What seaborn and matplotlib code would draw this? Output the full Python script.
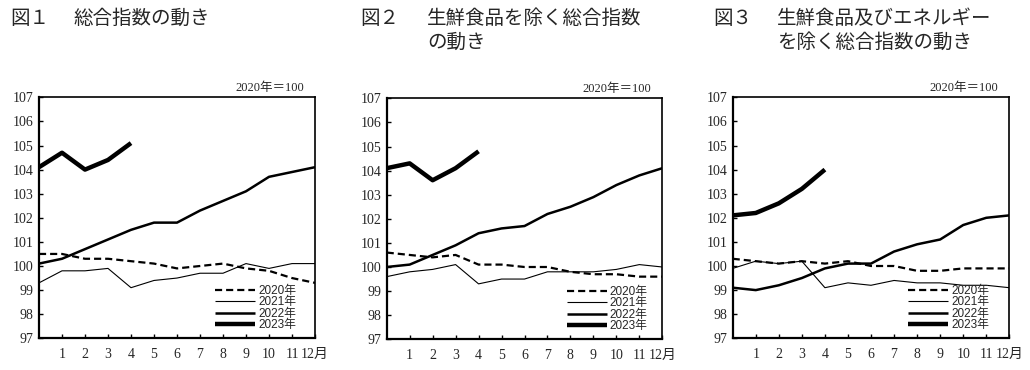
import numpy as np
import pandas as pd
import matplotlib
matplotlib.use("Agg")
import matplotlib.pyplot as plt
import seaborn as sns

# ---- data ----
months = list(range(0, 13))          # 0 = previous December, 1..12 = Jan..Dec
xtick_labels = ["1", "2", "3", "4", "5", "6", "7", "8", "9", "10", "11", "12月"]
years = ["2020年", "2021年", "2022年", "2023年"]

p1_2020 = [100.5, 100.5, 100.3, 100.3, 100.2, 100.1, 99.9, 100.0, 100.1, 99.9, 99.8, 99.5, 99.3]
p1_2021 = [99.3, 99.8, 99.8, 99.9, 99.1, 99.4, 99.5, 99.7, 99.7, 100.1, 99.9, 100.1, 100.1]
p1_2022 = [100.1, 100.3, 100.7, 101.1, 101.5, 101.8, 101.8, 102.3, 102.7, 103.1, 103.7, 103.9, 104.1]
p1_2023 = [104.1, 104.7, 104.0, 104.4, 105.1]

p2_2020 = [100.6, 100.5, 100.4, 100.5, 100.1, 100.1, 100.0, 100.0, 99.8, 99.7, 99.7, 99.6, 99.6]
p2_2021 = [99.6, 99.8, 99.9, 100.1, 99.3, 99.5, 99.5, 99.8, 99.8, 99.8, 99.9, 100.1, 100.0]
p2_2022 = [100.0, 100.1, 100.5, 100.9, 101.4, 101.6, 101.7, 102.2, 102.5, 102.9, 103.4, 103.8, 104.1]
p2_2023 = [104.1, 104.3, 103.6, 104.1, 104.8]

p3_2020 = [100.3, 100.2, 100.1, 100.2, 100.1, 100.2, 100.0, 100.0, 99.8, 99.8, 99.9, 99.9, 99.9]
p3_2021 = [99.9, 100.2, 100.1, 100.2, 99.1, 99.3, 99.2, 99.4, 99.3, 99.3, 99.2, 99.2, 99.1]
p3_2022 = [99.1, 99.0, 99.2, 99.5, 99.9, 100.1, 100.1, 100.6, 100.9, 101.1, 101.7, 102.0, 102.1]
p3_2023 = [102.1, 102.2, 102.6, 103.2, 104.0]

titles_prefix = ["図１", "図２", "図３"]
titles_body = ["総合指数の動き", "生鮮食品を除く総合指数\nの動き", "生鮮食品及びエネルギー\nを除く総合指数の動き"]
base_label = "2020年＝100"

panels = [
    [p1_2020, p1_2021, p1_2022, p1_2023],
    [p2_2020, p2_2021, p2_2022, p2_2023],
    [p3_2020, p3_2021, p3_2022, p3_2023],
]

# ---- style ----
sns.set_theme(style="white")
plt.rcParams['font.family'] = ['Liberation Serif', 'Noto Sans CJK JP', 'DejaVu Sans']

styles = [
    dict(lw=1.6, ls=(0, (3.2, 1.8))),
    dict(lw=0.8, ls="-"),
    dict(lw=1.8, ls="-"),
    dict(lw=3.2, ls="-"),
]

W, H = 1030, 370
fig = plt.figure(figsize=(W / 100, H / 100), dpi=100)

axes_px = [(39, 97.3, 315, 338.3), (386.7, 98.3, 662.3, 339.3), (732.7, 97.3, 1009.3, 338.3)]
legend_x = [0.638, 0.653, 0.634]
prefix_x = [10, 360, 713]
body_x = [73, 427, 777]

serif_cjk = ['Liberation Serif', 'Noto Sans CJK JP']
sans_cjk = ['Liberation Sans', 'Noto Sans CJK JP']

for i, (l, t, r, b) in enumerate(axes_px):
    ax = fig.add_axes([l / W, (H - b) / H, (r - l) / W, (b - t) / H])
    for series, st, name in zip(panels[i], styles, years):
        df = pd.DataFrame({"x": months[:len(series)], "y": series})
        sns.lineplot(data=df, x="x", y="y", ax=ax, color="black",
                     linewidth=st["lw"], linestyle=st["ls"], label=name,
                     solid_joinstyle="round", solid_capstyle="butt")
    ax.set_xlim(0, 12)
    ax.set_ylim(97, 107)
    ax.set_xticks(range(1, 13))
    ax.set_xticklabels(xtick_labels, family=serif_cjk, fontsize=10)
    ax.set_yticks(range(97, 108))
    ax.set_yticklabels([str(v) for v in range(97, 108)], family=serif_cjk, fontsize=10)
    ax.set_xlabel("")
    ax.set_ylabel("")
    ax.tick_params(axis="both", direction="in", length=3, width=1, color="black",
                   bottom=True, left=True)
    ax.tick_params(axis="x", pad=7)
    ax.tick_params(axis="y", pad=4)
    for side, sp in ax.spines.items():
        sp.set_color("black")
        sp.set_visible(True)
        sp.set_linewidth(1.6 if side in ("left", "bottom") else 1.2)
    ax.grid(False)
    leg = ax.legend(loc="lower left", bbox_to_anchor=(legend_x[i], 0.03), frameon=False,
                    prop={'family': sans_cjk, 'size': 8.5}, handlelength=3.4,
                    handletextpad=0.25, labelspacing=-0.05, borderpad=0, borderaxespad=0)
    ax.text(0.96, 1.015, base_label, transform=ax.transAxes, ha="right", va="bottom",
            family=serif_cjk, fontsize=9)
    fig.text(prefix_x[i] / W, 1 - 8 / H, titles_prefix[i], ha="left", va="top",
             family=['Noto Sans CJK JP'], fontsize=14, linespacing=1.15)
    fig.text(body_x[i] / W, 1 - 8 / H, titles_body[i], ha="left", va="top",
             family=['Noto Sans CJK JP'], fontsize=14, linespacing=1.15)

fig.savefig("out.png", dpi=100, facecolor="white")
